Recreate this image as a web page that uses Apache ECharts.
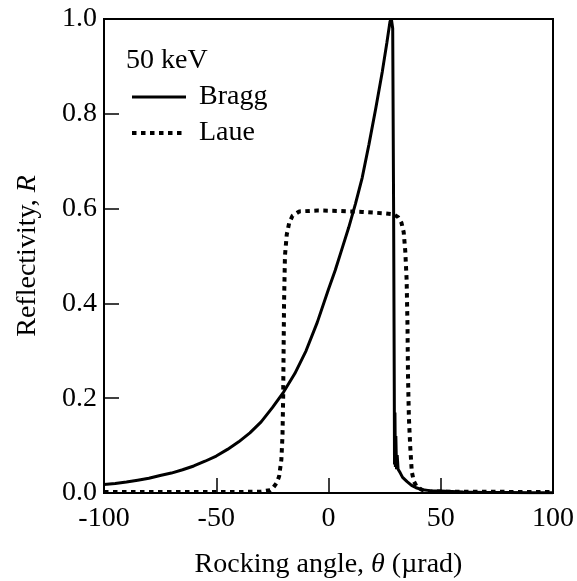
<!DOCTYPE html>
<html>
<head>
<meta charset="utf-8">
<script src="https://cdn.jsdelivr.net/npm/echarts@6/dist/echarts.min.js"></script>
<style>
html,body{margin:0;padding:0;background:#fff;}
#chart{width:577px;height:581px;}
</style>
</head>
<body>
<div id="chart"></div>
<script>
// Bragg reflectivity curve (solid)
var braggX = [-100,-95,-90,-85,-80,-75,-70,-65,-60,-55,-50,-45,-40,-35,-30,-25,-20,-15,-10,-5,0,3,6,9,12,15,18,21,24,26,27.4,28.0,28.6,29.0,29.3,29.4,29.6,29.8,30.0,30.3,30.6,31,32,33,35,37,39,42,45,50,55,60,70,80,90,100];
var braggY = [0.018,0.020,0.023,0.027,0.031,0.037,0.042,0.049,0.057,0.067,0.078,0.092,0.108,0.127,0.150,0.180,0.213,0.252,0.300,0.360,0.430,0.470,0.515,0.560,0.610,0.665,0.735,0.810,0.890,0.950,0.995,1.0,0.98,0.60,0.22,0.06,0.17,0.055,0.12,0.05,0.08,0.05,0.042,0.033,0.024,0.016,0.011,0.007,0.005,0.004,0.003,0.002,0.001,0.001,0.0005,0.0005];
// Laue reflectivity curve (dotted)
var laueX = [-100,-40,-30,-26,-24.5,-23,-22,-21,-20.5,-20.2,-20,-19.8,-19.4,-18.6,-17.5,-16,-13,-5,5,15,25,29,31,32.5,33.5,34.2,34.8,35.2,35.4,35.8,36.4,37.1,38,39.3,42,45,100];
var laueY = [0.002,0.002,0.003,0.006,0.012,0.022,0.035,0.07,0.12,0.2,0.3,0.4,0.5,0.545,0.57,0.585,0.594,0.596,0.595,0.593,0.59,0.588,0.582,0.57,0.55,0.51,0.45,0.35,0.25,0.16,0.098,0.045,0.025,0.013,0.006,0.003,0.002];
var xTicks = [-100, -50, 0, 50, 100];
var yTicks = [0.0, 0.2, 0.4, 0.6, 0.8, 1.0];
var seriesNames = ['Bragg', 'Laue'];
var energyLabel = '50 keV';

function pairs(xs, ys) { return xs.map(function (x, i) { return [x, ys[i]]; }); }

var FONT = 'Liberation Serif';
var FS = 28;
var solidStyle = {color: '#000', width: 3, type: 'solid'};
var dotStyle = {color: '#000', width: 4, type: [4.5, 4.5], cap: 'butt'};
var chart = echarts.init(document.getElementById('chart'), null, {renderer: 'canvas'});
chart.setOption({
  backgroundColor: '#fff',
  animation: false,
  title: {
    text: energyLabel,
    left: 121, top: 47, padding: [0,5],
    textStyle: {fontFamily: FONT, fontSize: FS, fontWeight: 'normal', color: '#000', lineHeight: FS}
  },
  legend: {
    data: [
      {name: seriesNames[0], lineStyle: solidStyle},
      {name: seriesNames[1], lineStyle: dotStyle}
    ],
    orient: 'vertical',
    left: 130, top: 83,
    itemWidth: 54, itemHeight: 28, itemGap: 8,
    padding: 0,
    itemStyle: {opacity: 0},
    textStyle: {fontFamily: FONT, fontSize: FS, color: '#000', padding: [0,0,0,8], lineHeight: FS}
  },
  grid: {left: 104, right: 24, top: 19, bottom: 88, containLabel: false, outerBoundsMode: 'none',
         show: true, borderColor: '#000', borderWidth: 2, backgroundColor: 'transparent'},
  xAxis: {
    type: 'value', min: xTicks[0], max: xTicks[xTicks.length-1], interval: 50,
    name: 'Rocking angle, {i|θ} (µrad)', nameLocation: 'middle', nameGap: 58,
    nameTextStyle: {fontFamily: FONT, fontSize: FS, color: '#000', rich: {i: {fontFamily: FONT, fontSize: FS, fontStyle: 'italic', color: '#000'}}},
    axisLine: {show: true, onZero: false, lineStyle: {color: '#000', width: 2}},
    axisTick: {show: true, inside: true, length: 15, lineStyle: {color: '#000', width: 1.5}},
    axisLabel: {fontFamily: FONT, fontSize: FS, color: '#000', margin: 12},
    splitLine: {show: false}
  },
  yAxis: {
    type: 'value', min: yTicks[0], max: yTicks[yTicks.length-1], interval: 0.2,
    name: 'Reflectivity, {i|R}', nameLocation: 'middle', nameGap: 62,
    nameTextStyle: {fontFamily: FONT, fontSize: FS, color: '#000', rich: {i: {fontFamily: FONT, fontSize: FS, fontStyle: 'italic', color: '#000'}}},
    axisLine: {show: true, onZero: false, lineStyle: {color: '#000', width: 2}},
    axisTick: {show: true, inside: true, length: 15, lineStyle: {color: '#000', width: 1.5}},
    axisLabel: {fontFamily: FONT, fontSize: FS, color: '#000', margin: 7,
                formatter: function (v) { return v.toFixed(1); }},
    splitLine: {show: false}
  },
  series: [
    {
      name: seriesNames[0], type: 'line', data: pairs(braggX, braggY),
      symbol: 'none', showSymbol: false, smooth: false,
      lineStyle: solidStyle,
      itemStyle: {color: '#000'}, z: 3
    },
    {
      name: seriesNames[1], type: 'line', data: pairs(laueX, laueY),
      symbol: 'none', showSymbol: false, smooth: false,
      lineStyle: dotStyle,
      itemStyle: {color: '#000'}, z: 2
    }
  ]
});
</script>
</body>
</html>
